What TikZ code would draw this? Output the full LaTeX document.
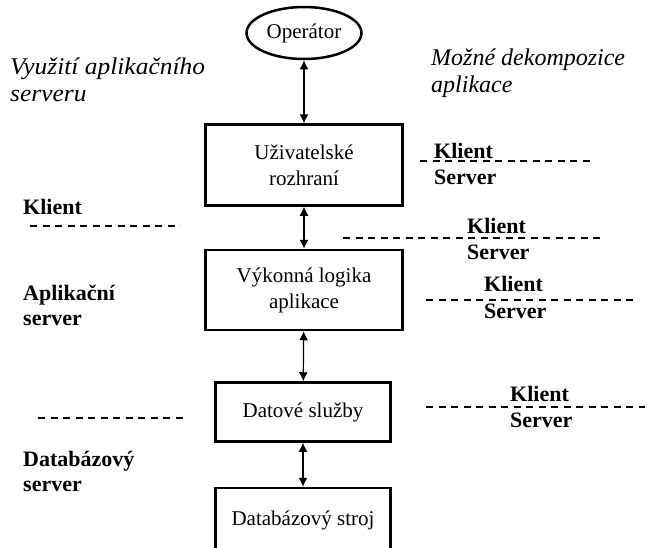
\documentclass[tikz,border=0pt]{standalone}
\usepackage{fontspec}
\setmainfont{Liberation Serif}
\usetikzlibrary{shapes.geometric,arrows.meta}

\begin{document}
\begin{tikzpicture}[
    x=1pt,
    y=-1pt,
    box/.style={draw,line width=2.5pt,align=center,
                font=\fontsize{21}{26}\selectfont},
    link/.style={line width=1.2pt,
                {Latex[length=9pt,width=9pt]}-{Latex[length=9pt,width=9pt]}},
    cut/.style={line width=2.6pt,dash pattern=on 7pt off 5.5pt},
    tag/.style={font=\fontsize{22}{25}\selectfont\bfseries,
                anchor=west,inner sep=0pt,align=left},
    note/.style={font=\fontsize{24}{27}\selectfont\itshape,
                 anchor=west,align=left,inner sep=0pt}
]

\clip (0,0) rectangle (653,547);

% Operator and the layers of the application
\node[box,ellipse,minimum width=115pt,minimum height=52pt,inner sep=0pt]
      (oper) at (304,33) {Operátor};
\node[box,minimum width=197pt,minimum height=81pt]
      (ui) at (304,165) {Uživatelské\\rozhraní};
\node[box,minimum width=197pt,minimum height=80pt]
      (logic) at (304,290) {Výkonná logika\\aplikace};
\node[box,minimum width=175pt,minimum height=59pt]
      (data) at (303,412) {Datové služby};
\node[box,minimum width=175pt,minimum height=64pt]
      (engine) at (303,520) {Databázový stroj};

% Links between the layers
\foreach \a/\b in {oper/ui,ui/logic,logic/data,data/engine}{
    \draw[link] (\a) -- (\b);
}

% Headings
\node[note,xscale=1.06,transform shape] (useleft) at (10,80)
      {Využití aplikačního\\serveru};
\node[note] (useright) at (431,73) {Možné dekompozice\\aplikace};

% Tiers of the application server
\node[tag] (tclient) at (23,207) {Klient};
\node[tag] (tapp) at (23,305) {Aplikační\\server};
\node[tag] (tdb) at (23,471) {Databázový\\server};
\draw[cut] (30,226) -- (180,226);
\draw[cut] (38,418) -- (185,418);

% Client/server splits of the application
\foreach \xa/\xb/\y/\xt/\yk/\ys in {420/590/161/434/151/177,
                                    343/605/238/467/226/252,
                                    426/635/300/484/284/311,
                                    426/645/407/510/394/420}{
    \draw[cut] (\xa,\y) -- (\xb,\y);
    \node[tag] at (\xt,\yk) {Klient};
    \node[tag] at (\xt,\ys) {Server};
}

\end{tikzpicture}
\end{document}
